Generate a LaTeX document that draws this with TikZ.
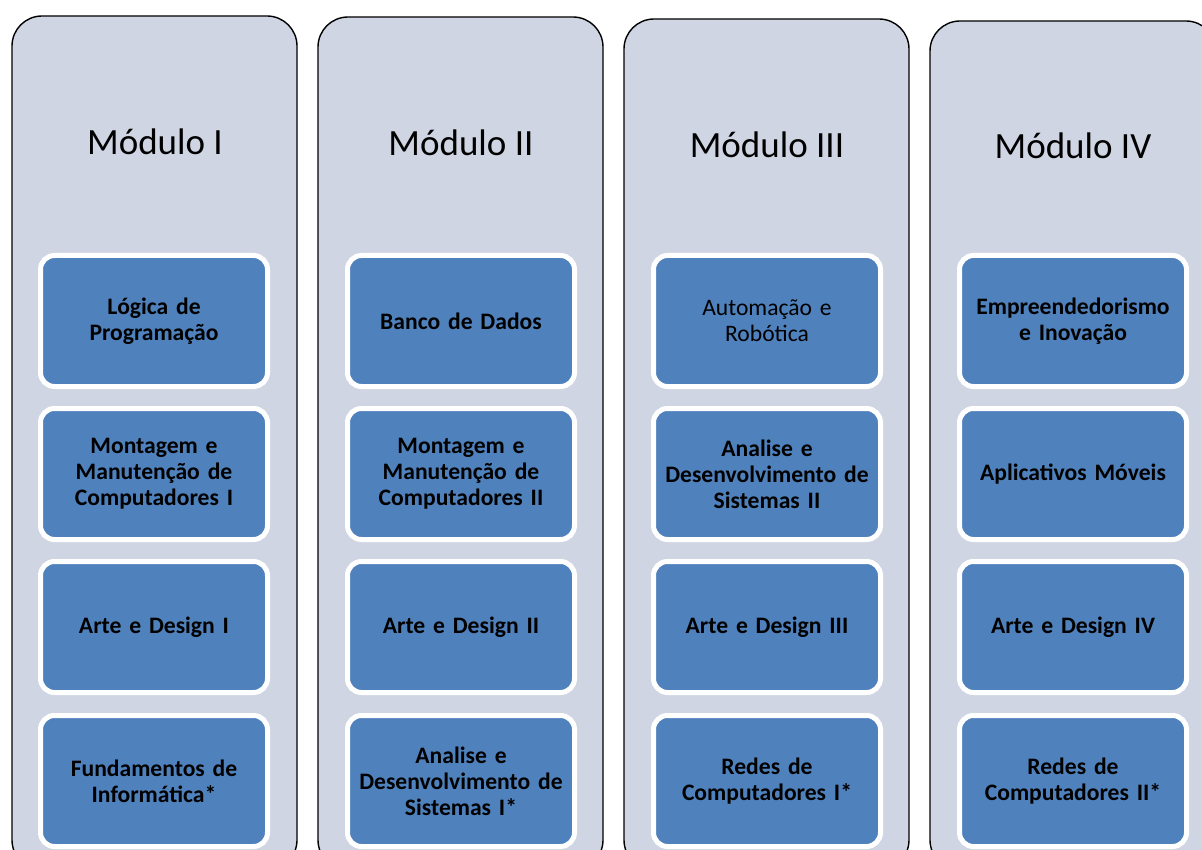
\documentclass[tikz,border=0pt]{standalone}
\usepackage{fontspec}
\setmainfont{Carlito}
\definecolor{colbg}{HTML}{CFD5E3}
\definecolor{itemblue}{HTML}{4F81BD}
\tikzset{
  colbox/.style={draw=black, line width=1.4pt, fill=colbg, rounded corners=30pt},
  coltitle/.style={font=\fontsize{37}{44}\selectfont, text=black, inner sep=0pt},
  itembox/.style={draw=white, line width=5pt, fill=itemblue, rounded corners=14pt,
    minimum width=227pt, minimum height=131pt, text width=220pt, align=center,
    inner sep=0pt, font=\fontsize{23.6}{26}\selectfont\bfseries, text=black},
  itemplain/.style={itembox, font=\fontsize{23.6}{26}\selectfont}
}
\begin{document}
\begin{tikzpicture}[x=1pt,y=-1pt]
\useasboundingbox (0,0) rectangle (1202,850);
\clip (0,0) rectangle (1202,850);
\fill[white] (0,0) rectangle (1202,850);
% columns
\draw[colbox] (12,16) rectangle (297,870);
\draw[colbox] (318,17) rectangle (603,870);
\draw[colbox] (624,19) rectangle (909,870);
\draw[colbox] (930,21) rectangle (1216,870);
% titles
\node[coltitle] (t1) at (155,142) {Módulo I};
\node[coltitle] (t2) at (461,143) {Módulo II};
\node[coltitle] (t3) at (767,145) {Módulo III};
\node[coltitle] (t4) at (1073,146) {Módulo IV};
% column 1
\node[itembox] (a1) at (154,321) {Lógica de\\Programação};
\node[itembox] (a2) at (154,474) {Montagem e\\Manutenção de\\Computadores I};
\node[itembox] (a3) at (154,627) {Arte e Design I};
\node[itembox] (a4) at (154,781) {Fundamentos de\\Informática*};
% column 2
\node[itembox] (b1) at (461,321) {Banco de Dados};
\node[itembox] (b2) at (461,474) {Montagem e\\Manutenção de\\Computadores II};
\node[itembox] (b3) at (461,627) {Arte e Design II};
\node[itembox] (b4) at (461,781) {Analise e\\Desenvolvimento de\\Sistemas I*};
% column 3
\node[itemplain] (c1) at (767,321) {Automação e\\Robótica};
\node[itembox] (c2) at (767,474) {Analise e\\Desenvolvimento de\\Sistemas II};
\node[itembox] (c3) at (767,627) {Arte e Design III};
\node[itembox] (c4) at (767,781) {Redes de\\Computadores I*};
% column 4
\node[itembox] (d1) at (1073,321) {Empreendedorismo\\e Inovação};
\node[itembox] (d2) at (1073,474) {Aplicativos Móveis};
\node[itembox] (d3) at (1073,627) {Arte e Design IV};
\node[itembox] (d4) at (1073,781) {Redes de\\Computadores II*};
\end{tikzpicture}
\end{document}
